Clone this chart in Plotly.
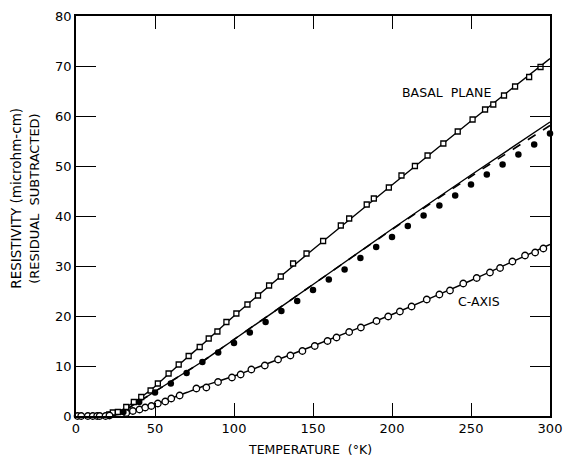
import plotly.graph_objects as go

# ---- data (temperature in K, resistivity in microhm-cm) ----
basal_T = [21, 23.3, 26.5, 31.8, 36.6, 41.3, 47.2, 51.8, 58.6, 65, 71.3, 78.3, 84, 89.5, 95.2,
           101.5, 108.5, 115.2, 122.2, 129.6, 137.4, 145.9, 156.4, 167.6, 172.9, 184, 188.5,
           198, 206, 214.5, 222.5, 232.5, 241.6, 251, 258.9, 264.1, 270.9, 277.9, 286.8, 294, 301]
basal_v = [0.3, 0.7, 0.8, 1.8, 2.8, 3.8, 5.1, 6.5, 8.5, 10.3, 12.0, 13.8, 15.5, 16.9, 18.8,
           20.5, 22.3, 24.1, 26.1, 27.9, 30.5, 32.5, 35.0, 38.1, 39.5, 42.3, 43.5,
           45.7, 48.1, 50.0, 52.1, 54.5, 56.9, 59.3, 61.3, 62.3, 64.1, 65.9, 67.8, 69.8, 71.5]

caxis_T = [1, 3.3, 7.5, 10.6, 13.4, 15, 18.7, 21.2, 31.8, 36, 40.2, 43.8, 47.7, 51.8, 56.5,
           60.3, 65.6, 76.2, 82.5, 89.9, 98.7, 104.2, 111, 119.5, 127.9, 135.7, 143.3, 151.1,
           159.2, 164.9, 172.9, 180.3, 190.2, 197.6, 205, 212.4, 222, 230, 236.7, 245.1,
           253.6, 262, 268.4, 276.2, 284.2, 290.6, 295.8, 300.5]
caxis_v = [0, 0, 0, 0, 0, 0, 0, 0.1, 0.6, 1.0, 1.3, 1.7, 2.0, 2.5, 2.9,
           3.5, 4.1, 5.5, 5.7, 6.8, 7.7, 8.3, 9.3, 10.1, 11.3, 12.1, 13.0, 14.0,
           15.0, 15.7, 16.8, 17.7, 19.0, 19.9, 20.9, 21.9, 23.3, 24.3, 25.1, 26.5,
           27.6, 28.7, 29.6, 30.9, 32.1, 32.7, 33.5, 34.3]

dots_T = [30, 40, 50, 60, 70, 80, 90, 100, 110, 120, 130, 140, 150, 160, 170, 180, 190,
          200, 210, 220, 230, 240, 250, 260, 270, 280, 290, 300]
dots_v = [0.8, 2.8, 4.7, 6.5, 8.6, 10.8, 12.7, 14.6, 16.7, 18.8, 21.0, 23.0, 25.2, 27.3,
          29.3, 31.6, 33.8, 35.8, 38.0, 40.1, 42.1, 44.1, 46.3, 48.3, 50.3, 52.3, 54.3, 56.5]

# smooth curves drawn through the data
basal_line_T = [20, 25, 30, 40, 50, 60, 70, 80, 100, 150, 200, 250, 300]
basal_line_v = [0, 0.5, 1.4, 3.5, 5.9, 8.8, 11.6, 14.3, 20.0, 33.3, 46.2, 59.0, 71.5]

mid_line_T = [20, 25, 30, 40, 50, 60, 70, 80, 100, 150, 200, 250, 300]
mid_line_v = [0, 0.3, 1.0, 2.9, 4.9, 6.9, 8.9, 10.9, 15.3, 26.3, 37.4, 48.2, 58.8]
mid_dash_v = [0, 0.3, 1.0, 2.9, 4.9, 6.9, 8.9, 10.9, 15.3, 26.3, 37.3, 47.9, 58.1]

caxis_line_T = [20, 30, 40, 50, 60, 70, 80, 100, 150, 200, 250, 300]
caxis_line_v = [0, 0.5, 1.3, 2.3, 3.5, 4.7, 5.9, 8.0, 14.0, 20.3, 27.1, 34.3]

x_ticks = [0, 50, 100, 150, 200, 250, 300]
y_ticks = [0, 10, 20, 30, 40, 50, 60, 70, 80]

FONT = "DejaVu Sans"
fig = go.Figure()

fig.add_trace(go.Scatter(x=basal_line_T, y=basal_line_v, mode="lines",
                         line=dict(color="black", width=1.4, shape="spline", smoothing=0.6),
                         showlegend=False, hoverinfo="skip"))
fig.add_trace(go.Scatter(x=mid_line_T, y=mid_line_v, mode="lines",
                         line=dict(color="black", width=1.4, shape="spline", smoothing=0.6),
                         showlegend=False, hoverinfo="skip"))
fig.add_trace(go.Scatter(x=mid_line_T, y=mid_dash_v, mode="lines",
                         line=dict(color="black", width=1.6, dash="dash", shape="spline", smoothing=0.6),
                         showlegend=False, hoverinfo="skip"))
fig.add_trace(go.Scatter(x=caxis_line_T, y=caxis_line_v, mode="lines",
                         line=dict(color="black", width=1.4, shape="spline", smoothing=0.6),
                         showlegend=False, hoverinfo="skip"))

fig.add_trace(go.Scatter(x=basal_T, y=basal_v, mode="markers", cliponaxis=False,
                         marker=dict(symbol="square", size=5, color="white",
                                     line=dict(color="black", width=1.3)),
                         showlegend=False))
fig.add_trace(go.Scatter(x=caxis_T, y=caxis_v, mode="markers", cliponaxis=False,
                         marker=dict(symbol="circle", size=6.5, color="white",
                                     line=dict(color="black", width=1.3)),
                         showlegend=False))
fig.add_trace(go.Scatter(x=dots_T, y=dots_v, mode="markers", cliponaxis=False,
                         marker=dict(symbol="circle", size=6.5, color="black",
                                     line=dict(color="black", width=0)),
                         showlegend=False))

axis_common = dict(showline=True, linecolor="black", linewidth=1.6, mirror="ticks",
                   ticks="inside", tickcolor="black", tickwidth=1.4,
                   showgrid=False, zeroline=False, automargin=False,
                   tickfont=dict(family=FONT, size=13, color="black"))

fig.update_xaxes(range=[0, 300], tickvals=x_ticks, ticklen=13, **axis_common)
fig.update_yaxes(range=[0, 80], tickvals=y_ticks, ticklen=20, **axis_common)

annots = [
    dict(x=234.8, y=64.7, xref="x", yref="y", text="BASAL  PLANE", showarrow=False,
         xanchor="center", yanchor="middle",
         font=dict(family=FONT, size=12.5, color="black")),
    dict(x=255, y=22.9, xref="x", yref="y", text="C-AXIS", showarrow=False,
         xanchor="center", yanchor="middle",
         font=dict(family=FONT, size=12.5, color="black")),
    dict(x=(310 - 76.5) / 473.5, y=(415.7 - 449) / 400, xref="paper", yref="paper",
         text="TEMPERATURE  (°K)", showarrow=False, xanchor="center", yanchor="middle",
         font=dict(family=FONT, size=12.5, color="black")),
    dict(x=(17 - 76.5) / 473.5, y=(415.7 - 198) / 400, xref="paper", yref="paper",
         text="RESISTIVITY (microhm-cm)", textangle=-90, showarrow=False,
         xanchor="center", yanchor="middle",
         font=dict(family=FONT, size=13.5, color="black")),
    dict(x=(35 - 76.5) / 473.5, y=(415.7 - 198) / 400, xref="paper", yref="paper",
         text="(RESIDUAL  SUBTRACTED)", textangle=-90, showarrow=False,
         xanchor="center", yanchor="middle",
         font=dict(family=FONT, size=13, color="black")),
]

fig.update_layout(width=564, height=457, autosize=False,
                  margin=dict(l=76, r=14, t=16, b=41, pad=0, autoexpand=False),
                  paper_bgcolor="white", plot_bgcolor="white",
                  annotations=annots, showlegend=False)

fig.write_html("out.html")
